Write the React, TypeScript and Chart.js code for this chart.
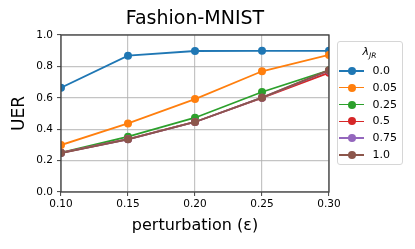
import React, { useEffect, useRef } from "react";
import { Chart, registerables } from "chart.js";

Chart.register(...registerables);

const epsilons = [0.1, 0.15, 0.2, 0.25, 0.3];
const lambdaLabels = ["0.0", "0.05", "0.25", "0.5", "0.75", "1.0"];
const uer_0_0 = [0.664, 0.868, 0.898, 0.899, 0.899];
const uer_0_05 = [0.299, 0.437, 0.592, 0.769, 0.873];
const uer_0_25 = [0.25, 0.352, 0.473, 0.637, 0.775];
const uer_0_5 = [0.25, 0.337, 0.446, 0.6, 0.76];
const uer_0_75 = [0.249, 0.336, 0.446, 0.601, 0.773];
const uer_1_0 = [0.248, 0.336, 0.446, 0.601, 0.776];
const seriesValues = [uer_0_0, uer_0_05, uer_0_25, uer_0_5, uer_0_75, uer_1_0];
const colors = ["#1f77b4", "#ff7f0e", "#2ca02c", "#d62728", "#9467bd", "#8c564b"];
const xTicks = [0.1, 0.15, 0.2, 0.25, 0.3];
const yTicks = [0, 0.2, 0.4, 0.6, 0.8, 1.0];

const FONT = "'DejaVu Sans', sans-serif";

const spinePlugin = {
  id: "spines",
  afterDatasetsDraw(chart: any) {
    const { ctx, chartArea } = chart;
    ctx.save();
    ctx.strokeStyle = "#404040";
    ctx.lineWidth = 1.3;
    ctx.strokeRect(chartArea.left, chartArea.top, chartArea.right - chartArea.left, chartArea.bottom - chartArea.top);
    ctx.restore();
  },
};

export default function App() {
  const canvasRef = useRef<HTMLCanvasElement | null>(null);

  useEffect(() => {
    document.body.style.margin = "0";
    const canvas = canvasRef.current;
    if (!canvas) return;
    const datasets = seriesValues.map((vals, i) => ({
      label: lambdaLabels[i],
      data: epsilons.map((x, j) => ({ x, y: vals[j] })),
      borderColor: colors[i],
      backgroundColor: colors[i],
      pointBackgroundColor: colors[i],
      pointBorderColor: colors[i],
      pointBorderWidth: 0,
      pointRadius: 4,
      borderWidth: 1.8,
      tension: 0,
      clip: 0,
      order: seriesValues.length - i,
    }));
    const chart = new Chart(canvas, {
      type: "line",
      data: { datasets },
      plugins: [spinePlugin],
      options: {
        animation: false,
        responsive: false,
        maintainAspectRatio: false,
        layout: { padding: { left: 0, right: 86, top: 0, bottom: 0 } },
        plugins: {
          legend: { display: false },
          tooltip: { enabled: false },
          title: {
            display: true,
            text: "Fashion-MNIST",
            fullSize: false,
            color: "#000",
            font: { family: FONT, size: 19, weight: "normal", lineHeight: 1.2 },
            padding: { top: 8, bottom: 4.2 },
          },
        },
        scales: {
          x: {
            type: "linear",
            min: 0.1,
            max: 0.3,
            afterFit(scale: any) {
              scale.height = 57;
            },
            afterBuildTicks(scale: any) {
              scale.ticks = xTicks.map((v) => ({ value: v }));
            },
            ticks: {
              color: "#000",
              font: { family: FONT, size: 10.5 },
              padding: 2,
              maxRotation: 0,
              autoSkip: false,
              callback: (v: any) => Number(v).toFixed(2),
            },
            grid: {
              color: "rgba(176,176,176,0.75)",
              lineWidth: 1.2,
              tickLength: 4,
              tickColor: "#404040",
              tickWidth: 1,
            },
            border: { display: false },
            title: {
              display: true,
              text: "perturbation (ε)",
              color: "#000",
              font: { family: FONT, size: 16, lineHeight: 1.2 },
              padding: { top: 0, bottom: 14 },
            },
          },
          y: {
            type: "linear",
            min: 0,
            max: 1,
            afterFit(scale: any) {
              scale.width = 61;
            },
            afterBuildTicks(scale: any) {
              scale.ticks = yTicks.map((v) => ({ value: v }));
            },
            ticks: {
              color: "#000",
              font: { family: FONT, size: 10.5 },
              padding: 4,
              autoSkip: false,
              callback: (v: any) => Number(v).toFixed(1),
            },
            grid: {
              color: "rgba(176,176,176,0.75)",
              lineWidth: 1.2,
              tickLength: 4,
              tickColor: "#404040",
              tickWidth: 1,
            },
            border: { display: false },
            title: {
              display: true,
              text: "UER",
              color: "#000",
              font: { family: FONT, size: 17, lineHeight: 1.2 },
              padding: { top: 9, bottom: 0 },
            },
          },
        },
      },
    });
    return () => chart.destroy();
  }, []);

  const rowTop = 70.7;
  const rowStep = 16.9;

  return (
    <div style={{ position: "relative", width: 415, height: 249, fontFamily: FONT }}>
      <canvas ref={canvasRef} width={415} height={249} style={{ display: "block", width: 415, height: 249 }} />
      <div
        style={{
          position: "absolute",
          left: 336.5,
          top: 41,
          width: 66,
          height: 124,
          boxSizing: "border-box",
          border: "1px solid #d6d6d6",
          borderRadius: 3,
          background: "rgba(255,255,255,0.8)",
        }}
      />
      <div
        style={{
          position: "absolute",
          left: 336.5,
          width: 66,
          top: 45,
          textAlign: "center",
          fontSize: 11,
          lineHeight: "14px",
          color: "#000",
        }}
      >
        <span style={{ fontStyle: "italic" }}>λ</span>
        <sub style={{ fontStyle: "italic", fontSize: 7.5, verticalAlign: "-3px" }}>JR</sub>
      </div>
      {lambdaLabels.map((lab, i) => {
        const cy = rowTop + i * rowStep;
        return (
          <React.Fragment key={lab}>
            <div
              style={{
                position: "absolute",
                left: 339,
                top: cy - 0.9,
                width: 25,
                height: 1.8,
                background: colors[i],
              }}
            />
            <div
              style={{
                position: "absolute",
                left: 351.5 - 4,
                top: cy - 4,
                width: 8,
                height: 8,
                borderRadius: "50%",
                background: colors[i],
              }}
            />
            <div
              style={{
                position: "absolute",
                left: 372.5,
                top: cy - 7,
                fontSize: 11,
                lineHeight: "14px",
                color: "#000",
                whiteSpace: "nowrap",
              }}
            >
              {lab}
            </div>
          </React.Fragment>
        );
      })}
    </div>
  );
}
